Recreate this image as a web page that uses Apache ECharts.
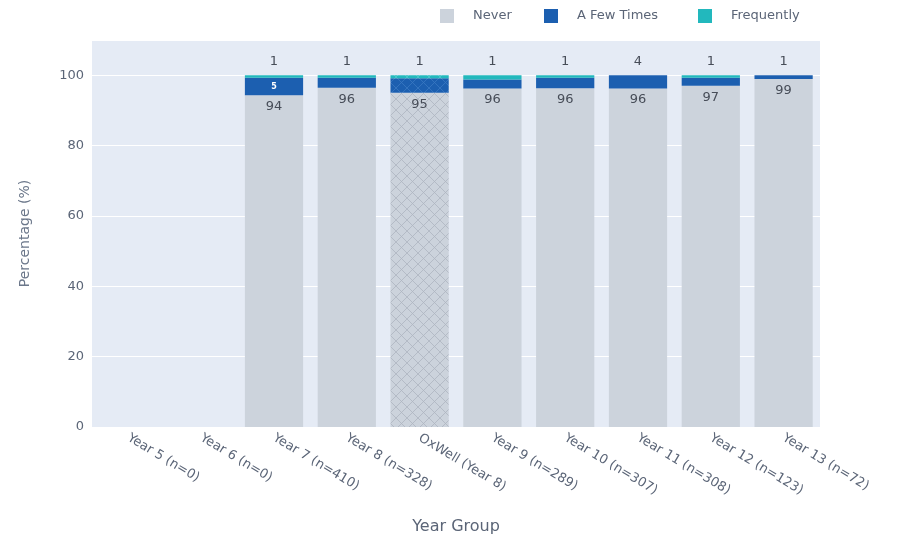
<!DOCTYPE html>
<html>
<head>
<meta charset="utf-8">
<script src="https://cdn.jsdelivr.net/npm/echarts@6/dist/echarts.min.js"></script>
<style>
  html, body { margin: 0; padding: 0; background: #ffffff; }
  #chart { width: 910px; height: 543px; }
</style>
</head>
<body>
<div id="chart"></div>
<script>
// Year groups along the x axis
const categories = [
  'Year 5 (n=0)', 'Year 6 (n=0)', 'Year 7 (n=410)', 'Year 8 (n=328)', 'OxWell (Year 8)',
  'Year 9 (n=289)', 'Year 10 (n=307)', 'Year 11 (n=308)', 'Year 12 (n=123)', 'Year 13 (n=72)'
];
// Percentages per response (null where the group has no respondents)
const never      = [null, null, 94.3, 96.4, 95.0, 96.2, 96.3, 96.2, 97.0, 98.9];
const fewTimes   = [null, null, 5.0, 2.9, 4.1, 2.6, 3.0, 3.8, 2.3, 1.1];
const frequently = [null, null, 0.7, 0.7, 0.9, 1.2, 0.7, 0, 0.7, 0];
// Group drawn with a cross-hatched fill (comparison cohort)
const hatchedGroup = 'OxWell (Year 8)';

const FONT = 'DejaVu Sans, Verdana, sans-serif';
const colors = { never: '#ccd3dc', few: '#1c5fb0', freq: '#22b8bd' };

function hatch(base, line) {
  const c = document.createElement('canvas');
  c.width = 11; c.height = 11;
  const g = c.getContext('2d');
  g.fillStyle = base; g.fillRect(0, 0, 11, 11);
  g.strokeStyle = line; g.lineWidth = 0.8;
  g.beginPath();
  g.moveTo(0, 0); g.lineTo(11, 11);
  g.moveTo(11, 0); g.lineTo(0, 11);
  g.stroke();
  return c;
}
const hatchFill = {
  never: { image: hatch(colors.never, '#adb5c0'), repeat: 'repeat' },
  few:   { image: hatch(colors.few, '#3a78c2'), repeat: 'repeat' },
  freq:  { image: hatch(colors.freq, '#4cc9cc'), repeat: 'repeat' }
};

const stacks = [
  { name: 'Never', key: 'never', values: never },
  { name: 'A Few Times', key: 'few', values: fewTimes },
  { name: 'Frequently', key: 'freq', values: frequently }
];

// index of the topmost non-empty segment per category
const topIndex = categories.map((_, i) => {
  let t = -1;
  stacks.forEach((s, k) => { if (s.values[i] != null && s.values[i] > 0) t = k; });
  return t;
});

const labelFont = { fontFamily: FONT, fontSize: 13, color: '#474d58' };
const rounded = p => Math.round(p.value);

const series = stacks.map((s, k) => ({
  name: s.name,
  type: 'bar',
  stack: 'total',
  barCategoryGap: '20%',
  itemStyle: { color: colors[s.key] },
  emphasis: { disabled: true },
  data: s.values.map((v, i) => {
    const item = { value: v };
    if (categories[i] === hatchedGroup) item.itemStyle = { color: hatchFill[s.key] };
    if (v == null) return item;
    if (k === 0) {
      item.label = Object.assign({ show: true, position: 'insideTop', distance: 5,
        formatter: rounded }, labelFont);
    } else if (k === 1 && v >= 4.5) {
      // large enough segment: value written inside the bar
      item.label = { show: true, position: 'inside', color: '#ffffff', fontSize: 8,
        fontWeight: 'bold', fontFamily: FONT, formatter: rounded };
    } else if (topIndex[i] === k) {
      item.label = Object.assign({ show: true, position: 'top', distance: 7,
        formatter: rounded }, labelFont);
    }
    return item;
  })
}));

const legendText = { fontFamily: FONT, fontSize: 13, color: '#5b6577', padding: [0, 0, 0, 14] };
const legendBase = { top: 9, itemWidth: 14, itemHeight: 14, itemGap: 0, icon: 'rect',
  textStyle: legendText, selectedMode: false, padding: 0 };

const chart = echarts.init(document.getElementById('chart'), null, { renderer: 'canvas' });
chart.setOption({
  animation: false,
  backgroundColor: '#ffffff',
  legend: [
    Object.assign({ data: ['Never'], left: 440 }, legendBase),
    Object.assign({ data: ['A Few Times'], left: 544 }, legendBase),
    Object.assign({ data: ['Frequently'], left: 698 }, legendBase)
  ],
  grid: {
    left: 92, right: 90, top: 40, bottom: 116,
    show: true, backgroundColor: '#e5ebf5', borderWidth: 0
  },
  xAxis: {
    type: 'category',
    data: categories,
    name: 'Year Group',
    nameLocation: 'middle',
    nameGap: 92,
    nameTextStyle: { fontFamily: FONT, fontSize: 16, color: '#5b6577' },
    axisLine: { show: false },
    axisTick: { show: false },
    axisLabel: {
      rotate: -31, interval: 0, margin: 10,
      fontFamily: FONT, fontSize: 13, color: '#5b6577'
    }
  },
  yAxis: {
    type: 'value',
    min: 0, max: 110, interval: 20,
    name: 'Percentage (%)',
    nameLocation: 'middle',
    nameGap: 60,
    nameTextStyle: { fontFamily: FONT, fontSize: 14, color: '#6b778a' },
    axisLine: { show: false },
    axisTick: { show: false },
    splitLine: { lineStyle: { color: '#ffffff', width: 1 } },
    axisLabel: { showMaxLabel: false, margin: 8,
      fontFamily: FONT, fontSize: 13, color: '#5b6577' }
  },
  series: series
});
</script>
</body>
</html>
